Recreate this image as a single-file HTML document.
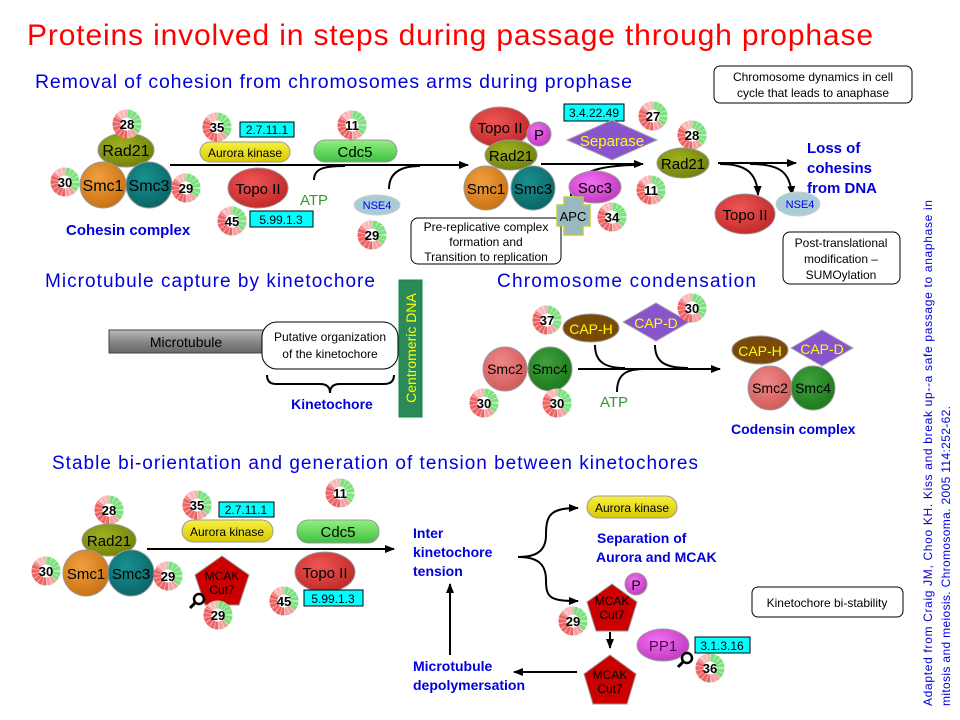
<!DOCTYPE html>
<html><head><meta charset="utf-8"><style>
html,body{margin:0;padding:0;background:#fff}
svg{display:block}
text{font-family:"Liberation Sans",sans-serif}
</style></head><body>
<svg width="960" height="720" viewBox="0 0 960 720" xmlns="http://www.w3.org/2000/svg">
<defs>
<marker id="ah" markerWidth="10" markerHeight="8" refX="9" refY="4" orient="auto" markerUnits="userSpaceOnUse"><path d="M0,0 L10,4 L0,8 Z" fill="#000"/></marker>
<radialGradient id="gRed" cx="40%" cy="35%" r="70%"><stop offset="0" stop-color="#ee5555"/><stop offset="1" stop-color="#c02828"/></radialGradient>
<radialGradient id="gOr" cx="40%" cy="35%" r="70%"><stop offset="0" stop-color="#f0a040"/><stop offset="1" stop-color="#c87010"/></radialGradient>
<radialGradient id="gTeal" cx="40%" cy="35%" r="70%"><stop offset="0" stop-color="#189090"/><stop offset="1" stop-color="#0a6464"/></radialGradient>
<radialGradient id="gOl" cx="40%" cy="35%" r="70%"><stop offset="0" stop-color="#a0b020"/><stop offset="1" stop-color="#708008"/></radialGradient>
<radialGradient id="gMag" cx="40%" cy="35%" r="70%"><stop offset="0" stop-color="#f070f0"/><stop offset="1" stop-color="#c038c0"/></radialGradient>
<radialGradient id="gSal" cx="40%" cy="35%" r="70%"><stop offset="0" stop-color="#f08888"/><stop offset="1" stop-color="#d05858"/></radialGradient>
<radialGradient id="gGr" cx="40%" cy="35%" r="70%"><stop offset="0" stop-color="#40a040"/><stop offset="1" stop-color="#1a7a1a"/></radialGradient>
<linearGradient id="gY" x1="0" y1="0" x2="0" y2="1"><stop offset="0" stop-color="#f8f040"/><stop offset="1" stop-color="#d8c800"/></linearGradient>
<linearGradient id="gC" x1="0" y1="0" x2="0" y2="1"><stop offset="0" stop-color="#90f080"/><stop offset="1" stop-color="#40c040"/></linearGradient>
<linearGradient id="gMt" x1="0" y1="0" x2="0" y2="1"><stop offset="0" stop-color="#bbb"/><stop offset="0.5" stop-color="#888"/><stop offset="1" stop-color="#666"/></linearGradient>
<symbol id="rg" viewBox="-16 -16 32 32" overflow="visible">
<path d="M0,-11 A11,11 0 0,0 0,11" fill="none" stroke="#ee6464" stroke-width="9"/>
<path d="M0,-11 A11,11 0 0,1 0,11" fill="none" stroke="#7ee07e" stroke-width="9"/>
<path d="M-9,-7 A11,11 0 0,1 0,-11" fill="none" stroke="#f8b8b8" stroke-width="9"/>
<path d="M8,7 A11,11 0 0,1 0,11" fill="none" stroke="#f4a0a0" stroke-width="9"/>
<circle r="11" fill="none" stroke="#fff" stroke-width="9" stroke-dasharray="0.6 3.4" opacity="0.7"/>
<circle r="7" fill="#fff"/>
</symbol>
<g id="mag"><circle cx="3" cy="-3" r="5" fill="none" stroke="#000" stroke-width="2.5"/><line x1="-0.5" y1="0.5" x2="-6" y2="6" stroke="#000" stroke-width="3"/></g>
</defs>

<text x="27" y="45" font-size="30" fill="#ff0000" textLength="846">Proteins involved in steps during passage through prophase</text>
<text x="35" y="88" font-size="19.5" fill="#0000dd" textLength="597">Removal of cohesion from chromosomes arms during prophase</text>
<rect x="714" y="66" width="198" height="37" rx="6" fill="#fff" stroke="#000"/>
<text x="813" y="81" font-size="12" text-anchor="middle">Chromosome dynamics in cell</text>
<text x="813" y="97" font-size="12" text-anchor="middle">cycle that leads to anaphase</text>

<line x1="170" y1="165" x2="468" y2="165" stroke="#000" stroke-width="2" marker-end="url(#ah)"/>
<ellipse cx="126" cy="150" rx="28" ry="17" fill="url(#gOl)" stroke="#999"/>
<circle cx="103" cy="185" r="23" fill="url(#gOr)" stroke="#999"/>
<circle cx="149" cy="185" r="23" fill="url(#gTeal)" stroke="#999"/>
<text x="126" y="156" font-size="16" text-anchor="middle">Rad21</text>
<text x="103" y="191" font-size="16" text-anchor="middle">Smc1</text>
<text x="149" y="191" font-size="16" text-anchor="middle">Smc3</text>
<use href="#rg" x="112" y="109" width="30" height="30"/><text x="127" y="129" font-size="13" font-weight="bold" text-anchor="middle">28</text>
<use href="#rg" x="50" y="167" width="30" height="30"/><text x="65" y="187" font-size="13" font-weight="bold" text-anchor="middle">30</text>
<use href="#rg" x="171" y="173" width="30" height="30"/><text x="186" y="193" font-size="13" font-weight="bold" text-anchor="middle">29</text>
<text x="66" y="235" font-size="15" font-weight="bold" fill="#0000dd">Cohesin complex</text>

<use href="#rg" x="202" y="112" width="30" height="30"/><text x="217" y="132" font-size="13" font-weight="bold" text-anchor="middle">35</text>
<rect x="240" y="122" width="54" height="15" fill="#00ffff" stroke="#000"/><text x="267" y="134" font-size="12" text-anchor="middle">2.7.11.1</text>
<rect x="200" y="142" width="90" height="20" rx="10" fill="url(#gY)" stroke="#999"/><text x="245" y="157" font-size="12" text-anchor="middle">Aurora kinase</text>
<use href="#rg" x="337" y="110" width="30" height="30"/><text x="352" y="130" font-size="13" font-weight="bold" text-anchor="middle">11</text>
<rect x="314" y="140" width="83" height="22" rx="11" fill="url(#gC)" stroke="#999"/><text x="355" y="157" font-size="15" text-anchor="middle">Cdc5</text>
<ellipse cx="258" cy="188" rx="30" ry="20" fill="url(#gRed)" stroke="#999"/><text x="258" y="194" font-size="15" text-anchor="middle">Topo II</text>
<use href="#rg" x="217" y="206" width="30" height="30"/><text x="232" y="226" font-size="13" font-weight="bold" text-anchor="middle">45</text>
<rect x="250" y="211" width="63" height="16" fill="#00ffff" stroke="#000"/><text x="281" y="224" font-size="12" text-anchor="middle">5.99.1.3</text>
<text x="300" y="205" font-size="15" fill="#339933">ATP</text>
<path d="M314,180 C314,168 325,166 345,166" fill="none" stroke="#000" stroke-width="2"/>
<ellipse cx="377" cy="205" rx="23" ry="10" fill="#a8ccd8" stroke="#ccc"/><text x="377" y="209" font-size="11" fill="#0000ee" text-anchor="middle">NSE4</text>
<use href="#rg" x="357" y="220" width="30" height="30"/><text x="372" y="240" font-size="13" font-weight="bold" text-anchor="middle">29</text>
<path d="M389,189 C389,172 402,166 420,166" fill="none" stroke="#000" stroke-width="2"/>
<rect x="411" y="218" width="150" height="46" rx="7" fill="#fff" stroke="#000"/>
<text x="486" y="231" font-size="12" text-anchor="middle">Pre-replicative  complex</text>
<text x="486" y="246" font-size="12" text-anchor="middle">formation  and</text>
<text x="486" y="261" font-size="12" text-anchor="middle">Transition  to replication</text>

<ellipse cx="500" cy="127" rx="30" ry="20" fill="url(#gRed)" stroke="#999"/><text x="500" y="133" font-size="15" text-anchor="middle">Topo II</text>
<circle cx="539" cy="134" r="12" fill="url(#gMag)" stroke="#999"/><text x="539" y="140" font-size="15" text-anchor="middle">P</text>
<ellipse cx="511" cy="155" rx="26" ry="15" fill="url(#gOl)" stroke="#999"/><text x="511" y="161" font-size="15" text-anchor="middle">Rad21</text>
<circle cx="486" cy="188" r="22" fill="url(#gOr)" stroke="#999"/><text x="486" y="194" font-size="15" text-anchor="middle">Smc1</text>
<circle cx="533" cy="188" r="22" fill="url(#gTeal)" stroke="#999"/><text x="533" y="194" font-size="15" text-anchor="middle">Smc3</text>
<line x1="541" y1="164" x2="643" y2="164" stroke="#000" stroke-width="2" marker-end="url(#ah)"/>
<rect x="564" y="104" width="60" height="17" fill="#00ffff" stroke="#000"/><text x="594" y="117" font-size="12" text-anchor="middle">3.4.22.49</text>
<polygon points="567,140 612,120 657,140 612,160" fill="#8855cc" stroke="#aaa"/><text x="612" y="146" font-size="15" fill="#ffff00" text-anchor="middle">Separase</text>
<use href="#rg" x="638" y="101" width="30" height="30"/><text x="653" y="121" font-size="13" font-weight="bold" text-anchor="middle">27</text>
<path d="M571,196 C571,172 600,165 640,165" fill="none" stroke="#000" stroke-width="2"/>
<ellipse cx="595" cy="187" rx="26" ry="16" fill="url(#gMag)" stroke="#999"/><text x="595" y="193" font-size="15" text-anchor="middle">Soc3</text>
<use href="#rg" x="636" y="175" width="30" height="30"/><text x="651" y="195" font-size="13" font-weight="bold" text-anchor="middle">11</text>
<path d="M564,197 H583 V205 H590 V226 H583 V235 H564 V226 H557 V205 H564 Z" fill="#9ab8c0" stroke="#b8d040" stroke-width="1.5"/><text x="573" y="221" font-size="13" text-anchor="middle">APC</text>
<use href="#rg" x="597" y="202" width="30" height="30"/><text x="612" y="222" font-size="13" font-weight="bold" text-anchor="middle">34</text>
<use href="#rg" x="677" y="120" width="30" height="30"/><text x="692" y="140" font-size="13" font-weight="bold" text-anchor="middle">28</text>
<ellipse cx="683" cy="163" rx="26" ry="15" fill="url(#gOl)" stroke="#999"/><text x="683" y="169" font-size="15" text-anchor="middle">Rad21</text>
<line x1="718" y1="163" x2="796" y2="163" stroke="#000" stroke-width="2" marker-end="url(#ah)"/>
<path d="M720,164 C745,164 757,172 758,195" fill="none" stroke="#000" stroke-width="2" marker-end="url(#ah)"/>
<path d="M750,164 C780,164 790,172 792,195" fill="none" stroke="#000" stroke-width="2" marker-end="url(#ah)"/>
<ellipse cx="745" cy="214" rx="30" ry="20" fill="url(#gRed)" stroke="#999"/><text x="745" y="220" font-size="15" text-anchor="middle">Topo II</text>
<ellipse cx="798" cy="204" rx="22" ry="12" fill="#a8ccd8" stroke="#ccc"/><text x="800" y="208" font-size="11" fill="#0000ee" text-anchor="middle">NSE4</text>
<text x="807" y="153" font-size="15" font-weight="bold" fill="#0000dd">Loss of</text>
<text x="807" y="173" font-size="15" font-weight="bold" fill="#0000dd">cohesins</text>
<text x="807" y="193" font-size="15" font-weight="bold" fill="#0000dd">from DNA</text>
<rect x="783" y="232" width="117" height="52" rx="7" fill="#fff" stroke="#000"/>
<text x="841" y="247" font-size="12" text-anchor="middle">Post-translational</text>
<text x="841" y="263" font-size="12" text-anchor="middle">modification –</text>
<text x="841" y="279" font-size="12" text-anchor="middle">SUMOylation</text>

<text x="45" y="287" font-size="19" fill="#0000dd" textLength="330">Microtubule  capture  by  kinetochore</text>
<text x="497" y="287" font-size="19" fill="#0000dd" textLength="259">Chromosome  condensation</text>
<rect x="109" y="330" width="156" height="23" fill="url(#gMt)" stroke="#444"/><text x="186" y="347" font-size="14" text-anchor="middle">Microtubule</text>
<rect x="262" y="322" width="136" height="47" rx="15" fill="#fff" stroke="#000"/>
<text x="330" y="341" font-size="12" text-anchor="middle">Putative organization</text>
<text x="330" y="358" font-size="12" text-anchor="middle">of the kinetochore</text>
<path d="M267,375 Q267,384 276,384 L320,384 Q330,384 330,393 Q330,384 340,384 L384,384 Q394,384 394,375" fill="none" stroke="#000" stroke-width="2"/>
<text x="332" y="409" font-size="14" font-weight="bold" fill="#0000dd" text-anchor="middle">Kinetochore</text>
<rect x="399" y="280" width="23" height="137" fill="#2a8a5a" stroke="#184"/>
<text transform="translate(416,348) rotate(-90)" font-size="14" fill="#ffff00" text-anchor="middle">Centromeric DNA</text>

<line x1="578" y1="369" x2="720" y2="369" stroke="#000" stroke-width="2" marker-end="url(#ah)"/>
<path d="M595,345 C595,362 605,368 625,368" fill="none" stroke="#000" stroke-width="2"/>
<path d="M655,345 C655,362 665,368 688,368" fill="none" stroke="#000" stroke-width="2"/>
<path d="M617,392 C617,375 625,369 645,369" fill="none" stroke="#000" stroke-width="2"/>
<use href="#rg" x="532" y="305" width="30" height="30"/><text x="547" y="325" font-size="13" font-weight="bold" text-anchor="middle">37</text>
<ellipse cx="591" cy="328" rx="28" ry="14" fill="#7a4a08" stroke="#999"/><text x="591" y="334" font-size="14" fill="#ffff00" text-anchor="middle">CAP-H</text>
<polygon points="623,322 656,303 689,322 656,341" fill="#8855cc" stroke="#aaa"/><text x="656" y="328" font-size="14" fill="#ffff00" text-anchor="middle">CAP-D</text>
<use href="#rg" x="677" y="293" width="30" height="30"/><text x="692" y="313" font-size="13" font-weight="bold" text-anchor="middle">30</text>
<circle cx="505" cy="369" r="22" fill="url(#gSal)" stroke="#999"/><text x="505" y="374" font-size="14" text-anchor="middle">Smc2</text>
<circle cx="550" cy="369" r="22" fill="url(#gGr)" stroke="#999"/><text x="550" y="374" font-size="14" text-anchor="middle">Smc4</text>
<use href="#rg" x="469" y="388" width="30" height="30"/><text x="484" y="408" font-size="13" font-weight="bold" text-anchor="middle">30</text>
<use href="#rg" x="542" y="388" width="30" height="30"/><text x="557" y="408" font-size="13" font-weight="bold" text-anchor="middle">30</text>
<text x="600" y="407" font-size="15" fill="#339933">ATP</text>
<ellipse cx="760" cy="350" rx="28" ry="14" fill="#7a4a08" stroke="#999"/><text x="760" y="356" font-size="14" fill="#ffff00" text-anchor="middle">CAP-H</text>
<polygon points="791,348 822,330 853,348 822,366" fill="#8855cc" stroke="#aaa"/><text x="822" y="354" font-size="14" fill="#ffff00" text-anchor="middle">CAP-D</text>
<circle cx="770" cy="388" r="22" fill="url(#gSal)" stroke="#999"/><text x="770" y="393" font-size="14" text-anchor="middle">Smc2</text>
<circle cx="813" cy="388" r="22" fill="url(#gGr)" stroke="#999"/><text x="813" y="393" font-size="14" text-anchor="middle">Smc4</text>
<text x="731" y="434" font-size="14" font-weight="bold" fill="#0000dd">Codensin complex</text>

<text x="52" y="469" font-size="19" fill="#0000dd" textLength="646">Stable bi-orientation and generation of tension between kinetochores</text>
<line x1="147" y1="549" x2="394" y2="549" stroke="#000" stroke-width="2" marker-end="url(#ah)"/>
<use href="#rg" x="94" y="495" width="30" height="30"/><text x="109" y="515" font-size="13" font-weight="bold" text-anchor="middle">28</text>
<ellipse cx="109" cy="540" rx="27" ry="16" fill="url(#gOl)" stroke="#999"/><text x="109" y="546" font-size="15" text-anchor="middle">Rad21</text>
<circle cx="86" cy="573" r="23" fill="url(#gOr)" stroke="#999"/><text x="86" y="579" font-size="15" text-anchor="middle">Smc1</text>
<circle cx="131" cy="573" r="23" fill="url(#gTeal)" stroke="#999"/><text x="131" y="579" font-size="15" text-anchor="middle">Smc3</text>
<use href="#rg" x="31" y="556" width="30" height="30"/><text x="46" y="576" font-size="13" font-weight="bold" text-anchor="middle">30</text>
<use href="#rg" x="153" y="561" width="30" height="30"/><text x="168" y="581" font-size="13" font-weight="bold" text-anchor="middle">29</text>
<use href="#rg" x="182" y="490" width="30" height="30"/><text x="197" y="510" font-size="13" font-weight="bold" text-anchor="middle">35</text>
<rect x="219" y="502" width="55" height="15" fill="#00ffff" stroke="#000"/><text x="246" y="514" font-size="12" text-anchor="middle">2.7.11.1</text>
<rect x="182" y="520" width="91" height="22" rx="11" fill="url(#gY)" stroke="#999"/><text x="227" y="536" font-size="12" text-anchor="middle">Aurora kinase</text>
<use href="#rg" x="325" y="478" width="30" height="30"/><text x="340" y="498" font-size="13" font-weight="bold" text-anchor="middle">11</text>
<rect x="297" y="520" width="82" height="23" rx="11" fill="url(#gC)" stroke="#999"/><text x="338" y="537" font-size="15" text-anchor="middle">Cdc5</text>
<polygon points="222,556 249,575 239,605 205,605 195,575" fill="#cc0000" stroke="#999"/>
<text x="222" y="580" font-size="12" text-anchor="middle">MCAK</text><text x="222" y="594" font-size="12" text-anchor="middle">Cut7</text>
<use href="#mag" x="196" y="602"/>
<use href="#rg" x="203" y="600" width="30" height="30"/><text x="218" y="620" font-size="13" font-weight="bold" text-anchor="middle">29</text>
<ellipse cx="325" cy="572" rx="30" ry="20" fill="url(#gRed)" stroke="#999"/><text x="325" y="578" font-size="15" text-anchor="middle">Topo II</text>
<use href="#rg" x="269" y="586" width="30" height="30"/><text x="284" y="606" font-size="13" font-weight="bold" text-anchor="middle">45</text>
<rect x="304" y="590" width="59" height="16" fill="#00ffff" stroke="#000"/><text x="333" y="603" font-size="12" text-anchor="middle">5.99.1.3</text>

<text x="413" y="538" font-size="14" font-weight="bold" fill="#0000dd">Inter</text>
<text x="413" y="557" font-size="14" font-weight="bold" fill="#0000dd">kinetochore</text>
<text x="413" y="576" font-size="14" font-weight="bold" fill="#0000dd">tension</text>
<path d="M518,557 C535,557 546,552 546,535 C546,515 550,508 578,508" fill="none" stroke="#000" stroke-width="2" marker-end="url(#ah)"/>
<path d="M518,557 C535,557 546,562 546,580 C546,598 550,601 578,601" fill="none" stroke="#000" stroke-width="2" marker-end="url(#ah)"/>
<rect x="587" y="496" width="90" height="22" rx="11" fill="url(#gY)" stroke="#999"/><text x="632" y="512" font-size="12" text-anchor="middle">Aurora kinase</text>
<text x="597" y="543" font-size="14" font-weight="bold" fill="#0000dd">Separation of</text>
<text x="596" y="562" font-size="14" font-weight="bold" fill="#0000dd">Aurora and MCAK</text>
<polygon points="612,584 637,602 628,631 596,631 587,602" fill="#cc0000" stroke="#999"/>
<text x="612" y="605" font-size="12" text-anchor="middle">MCAK</text><text x="612" y="619" font-size="12" text-anchor="middle">Cut7</text>
<circle cx="636" cy="584" r="11" fill="url(#gMag)" stroke="#999"/><text x="636" y="590" font-size="14" text-anchor="middle">P</text>
<use href="#rg" x="558" y="606" width="30" height="30"/><text x="573" y="626" font-size="13" font-weight="bold" text-anchor="middle">29</text>
<line x1="610" y1="632" x2="610" y2="648" stroke="#000" stroke-width="2" marker-end="url(#ah)"/>
<polygon points="610,655 636,674 627,704 593,704 584,674" fill="#cc0000" stroke="#999"/>
<text x="610" y="679" font-size="12" text-anchor="middle">MCAK</text><text x="610" y="693" font-size="12" text-anchor="middle">Cut7</text>
<ellipse cx="663" cy="645" rx="26" ry="16" fill="url(#gMag)" stroke="#999"/><text x="663" y="651" font-size="15" fill="#550055" text-anchor="middle">PP1</text>
<rect x="695" y="637" width="55" height="16" fill="#00ffff" stroke="#000"/><text x="722" y="650" font-size="12" text-anchor="middle">3.1.3.16</text>
<use href="#mag" x="684" y="661"/>
<use href="#rg" x="695" y="653" width="30" height="30"/><text x="710" y="673" font-size="13" font-weight="bold" text-anchor="middle">36</text>
<line x1="577" y1="672" x2="514" y2="672" stroke="#000" stroke-width="2" marker-end="url(#ah)"/>
<text x="413" y="671" font-size="14" font-weight="bold" fill="#0000dd">Microtubule</text>
<text x="413" y="690" font-size="14" font-weight="bold" fill="#0000dd">depolymersation</text>
<line x1="450" y1="655" x2="450" y2="584" stroke="#000" stroke-width="2" marker-end="url(#ah)"/>
<rect x="752" y="587" width="151" height="30" rx="6" fill="#fff" stroke="#000"/><text x="827" y="607" font-size="12" text-anchor="middle">Kinetochore  bi-stability</text>

<text transform="translate(932,706) rotate(-90)" font-size="12" fill="#0000dd" textLength="506">Adapted from Craig  JM, Choo KH.  Kiss and break up--a  safe passage to anaphase in</text>
<text transform="translate(950,706) rotate(-90)" font-size="12" fill="#0000dd" textLength="300">mitosis and meiosis. Chromosoma.  2005 114:252-62.</text>
</svg>
</body></html>
